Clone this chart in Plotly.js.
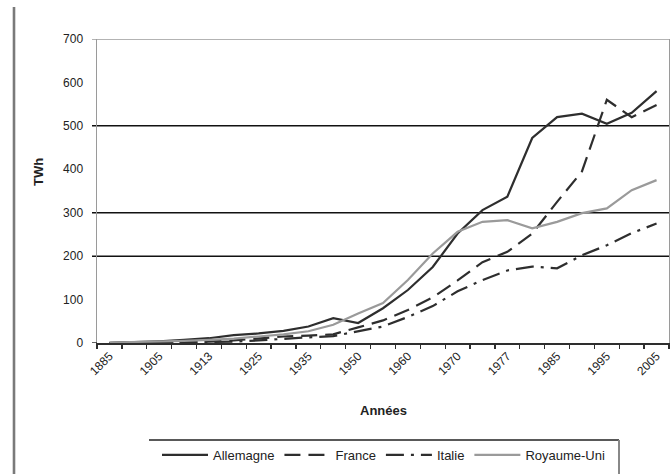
<!DOCTYPE html>
<html><head><meta charset="utf-8">
<script src="https://cdn.plot.ly/plotly-3.0.1.min.js"></script>
<style>html,body{margin:0;padding:0;background:#fff;} #chart{width:670px;height:474px;}</style>
</head><body><div id="chart"></div>
<script>
// ---- data ----
const categories = ['1885','1895','1905','1910','1913','1920','1925','1930','1935','1940','1950','1955','1960','1965','1970','1974','1977','1980','1985','1990','1995','2000','2005'];
const shownYears = ['1885','1905','1913','1925','1935','1950','1960','1970','1977','1985','1995','2005'];
const allemagne  = [0.5, 2, 4, 7, 11, 18, 22, 28, 38, 57, 46, 80, 122, 175, 252, 306, 337, 472, 520, 528, 505, 530, 580];
const france     = [0, 0.5, 1, 2, 3, 6, 11, 15, 17, 20, 36, 52, 76, 105, 144, 186, 210, 252, 325, 395, 560, 520, 548];
const italie     = [0, 0.3, 0.5, 1, 2, 3, 6, 10, 13, 16, 27, 38, 60, 85, 119, 145, 167, 176, 172, 202, 225, 253, 275];
const royaumeUni = [1, 2, 3, 5, 7, 10, 15, 20, 27, 42, 68, 92, 145, 206, 256, 279, 283, 264, 279, 299, 310, 352, 375];
const seriesNames = ['Allemagne', 'France', 'Italie', 'Royaume-Uni'];
const yTicks = [0, 100, 200, 300, 400, 500, 600, 700];
const gridValues = [200, 300, 500];

// ---- layout geometry ----
const W = 670, H = 474, L = 97, R = 1, T = 39, B = 131;
const PW = W - L - R, PH = H - T - B;
const xp = px => (px - L) / PW;
const yp = py => (H - B - py) / PH;
const FONT = 'Liberation Sans, Arial, sans-serif';
const dark = '#2e2e2e';

const ticktext = categories.map(c => shownYears.includes(c) ? c : '');

function tr(name, y, color, dash) {
  return {type: 'scatter', mode: 'lines', name: name, x: categories, y: y,
          line: {color: color, width: 2.2, dash: dash}, hoverinfo: 'skip'};
}
const data = [
  tr(seriesNames[0], allemagne, dark, 'solid'),
  tr(seriesNames[1], france, dark, '16px,8px'),
  tr(seriesNames[2], italie, dark, '18px,7px,3px,7px'),
  tr(seriesNames[3], royaumeUni, '#9a9a9a', 'solid')
];

const shapes = [];
gridValues.forEach(v => shapes.push({type: 'line', xref: 'paper', yref: 'y', x0: xp(92), x1: 1, y0: v, y1: v,
  line: {color: '#111', width: 1.5}, layer: 'below'}));
// tick stubs at 0 and top border at 700
shapes.push({type: 'line', xref: 'paper', yref: 'y', x0: xp(92), x1: 0, y0: 0, y1: 0, line: {color: dark, width: 1.5}});
shapes.push({type: 'line', xref: 'paper', yref: 'y', x0: xp(92), x1: 1, y0: 700, y1: 700, line: {color: '#9a9a9a', width: 1.5}});
// legend frame (top + right)
shapes.push({type: 'line', xref: 'paper', yref: 'paper', x0: xp(149), x1: xp(619), y0: yp(440), y1: yp(440), line: {color: '#222', width: 1.5}});
shapes.push({type: 'line', xref: 'paper', yref: 'paper', x0: xp(619), x1: xp(619), y0: yp(440), y1: yp(476), line: {color: '#888', width: 2}});
// page frame on the left
shapes.push({type: 'line', xref: 'paper', yref: 'paper', x0: xp(14), x1: xp(14), y0: yp(7), y1: yp(476), line: {color: '#7a7a7a', width: 2.6}});

const layout = {
  width: W, height: H,
  margin: {l: L, r: R, t: T, b: B, pad: 0},
  paper_bgcolor: '#fff', plot_bgcolor: '#fff',
  font: {family: FONT, size: 12, color: '#222'},
  showlegend: true,
  legend: {orientation: 'h', x: xp(157), xanchor: 'left', y: yp(455), yanchor: 'middle',
           font: {family: FONT, size: 13, color: '#222'}, bgcolor: 'rgba(0,0,0,0)', borderwidth: 0,
           itemwidth: 46, tracegroupgap: 0},
  xaxis: {type: 'category', range: [-0.5, categories.length - 0.5], tickmode: 'array', tickvals: categories,
          ticktext: ticktext, tickson: 'boundaries', ticks: 'outside', ticklen: 4, tickcolor: dark, tickwidth: 1.3,
          tickangle: -45, tickfont: {family: FONT, size: 12, color: '#222'},
          showline: true, linecolor: dark, linewidth: 1.5, showgrid: false, zeroline: false, automargin: false,
          fixedrange: true},
  yaxis: {range: [0, 700], tickmode: 'array', tickvals: yTicks, ticks: '', ticklabelstandoff: 10,
          tickfont: {family: FONT, size: 12, color: '#222'},
          showline: true, linecolor: '#9a9a9a', linewidth: 1.5, mirror: true, showgrid: false, zeroline: false,
          automargin: false, fixedrange: true},
  shapes: shapes,
  annotations: [
    {text: '<b>TWh</b>', xref: 'paper', yref: 'paper', x: xp(38), y: yp(172), textangle: -90, showarrow: false,
     font: {family: FONT, size: 13, color: '#222'}, xanchor: 'center', yanchor: 'middle'},
    {text: '<b>Années</b>', xref: 'paper', yref: 'paper', x: xp(383), y: yp(410), showarrow: false,
     font: {family: FONT, size: 13, color: '#222'}, xanchor: 'center', yanchor: 'middle'}
  ]
};

Plotly.newPlot('chart', data, layout, {displayModeBar: false, staticPlot: true});
</script>
</body></html>
